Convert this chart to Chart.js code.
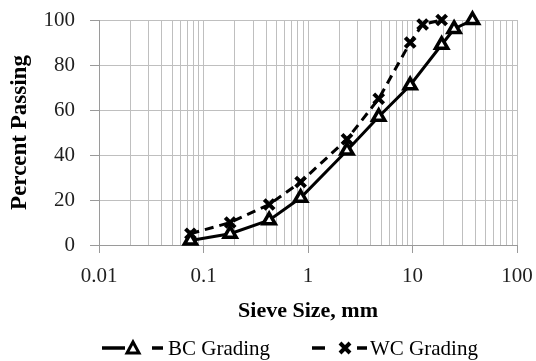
<!DOCTYPE html>
<html>
<head>
<meta charset="utf-8">
<script src="https://cdn.jsdelivr.net/npm/chart.js@4"></script>
<style>
  body { margin: 0; background: #fff; }
  #wrap { position: relative; width: 536px; height: 361px; }
  #legend { position: absolute; left: 0; top: 336px; width: 536px; height: 24px;
            font-family: "Liberation Serif", "Times New Roman", serif; font-size: 21px; color: #000; }
  #legend span, #legend svg { position: absolute; top: 0; }
</style>
</head>
<body>
<div id="wrap">
  <canvas id="grading-canvas" width="536" height="361"></canvas>
  <div id="legend">
    <svg style="left:102px" width="62" height="24">
      <line x1="0" y1="12" x2="23" y2="12" stroke="#000" stroke-width="3.5"/>
      <polygon points="31,6 37,17 25,17" fill="#fff" stroke="#000" stroke-width="3"/>
      <line x1="50" y1="12" x2="61" y2="12" stroke="#000" stroke-width="3.5"/>
    </svg>
    <span style="left:168px; line-height:24px">BC Grading</span>
    <svg style="left:312px" width="56" height="24">
      <line x1="0" y1="12" x2="13" y2="12" stroke="#000" stroke-width="3.5"/>
      <path d="M28,7 L38,17 M38,7 L28,17" stroke="#000" stroke-width="4"/>
      <line x1="45" y1="12" x2="55" y2="12" stroke="#000" stroke-width="3.5"/>
    </svg>
    <span style="left:370px; line-height:24px">WC Grading</span>
  </div>
</div>
<script>
// sieve sizes (mm) and percent passing
const bc_sizes = [0.075, 0.18, 0.425, 0.85, 2.36, 4.75, 9.5, 19, 25, 37.5];
const bc_passing = [2, 5, 11, 21, 42, 57, 71, 89, 96, 100];
const wc_sizes = [0.075, 0.18, 0.425, 0.85, 2.36, 4.75, 9.5, 12.5, 19];
const wc_passing = [5, 10, 18, 28, 47, 65, 90, 98, 100];
const x_decades = [0.01, 0.1, 1, 10];
const x_max = 100;
const y_ticks = [0, 20, 40, 60, 80, 100];

const serif = "'Liberation Serif', 'Times New Roman', serif";
const grid_color = '#bfbfbf';

function to_points(xs, ys){
  return xs.map((x, i) => ({x: x, y: ys[i]}));
}

function is_major(v){
  return Number.isInteger(Math.log10(v));
}

function log_ticks(){
  var out = [];
  x_decades.forEach(function(d){
    for(var k = 1; k < 10; k++){
      out.push(+(d * k).toPrecision(6));
    }
  });
  out.push(x_max);
  return out;
}

const ctx = document.getElementById('grading-canvas');
const myChart = new Chart(ctx, {
  type: 'scatter',
  data: {
    datasets: [{
      label: 'BC Grading',
      data: to_points(bc_sizes, bc_passing),
      showLine: true,
      clip: false,
      borderColor: '#000',
      borderWidth: 3,
      pointStyle: 'triangle',
      pointRadius: 7,
      pointBorderWidth: 3.5,
      pointBackgroundColor: '#fff',
      pointBorderColor: '#000'
    }, {
      label: 'WC Grading',
      data: to_points(wc_sizes, wc_passing),
      showLine: true,
      clip: false,
      borderColor: '#000',
      borderWidth: 3,
      borderDash: [9, 6],
      pointStyle: 'crossRot',
      pointRadius: 7,
      pointBorderWidth: 4,
      pointBorderColor: '#000'
    }]
  },
  options: {
    animation: false,
    responsive: false,
    layout: {
      padding: {left: 0, right: 19, top: 20, bottom: 36}
    },
    plugins: {
      legend: false,
      tooltip: false
    },
    scales: {
      x: {
        type: 'logarithmic',
        min: 0.01,
        max: x_max,
        afterBuildTicks: function(scale){
          scale.ticks = log_ticks().map(v => ({value: v, major: is_major(v)}));
        },
        afterFit: function(scale){
          scale.height = 80;
          // labels overhang into the padding, like in the original
          scale.paddingLeft = 0;
          scale.paddingRight = 0;
        },
        grid: {
          color: grid_color,
          lineWidth: 1,
          tickLength: 8,
          tickColor: (c) => (c.tick && is_major(c.tick.value)) ? '#9a9a9a' : 'rgba(0,0,0,0)'
        },
        border: { color: '#9a9a9a' },
        ticks: {
          autoSkip: false,
          maxRotation: 0,
          padding: 11,
          color: '#1f1f1f',
          font: { family: serif, size: 21 },
          callback: (v) => is_major(v) ? String(v) : ''
        },
        title: {
          display: true,
          text: 'Sieve Size, mm',
          color: '#000',
          padding: 0,
          font: { family: serif, size: 22, weight: 'bold' }
        }
      },
      y: {
        min: 0,
        max: 100,
        afterBuildTicks: function(scale){
          scale.ticks = y_ticks.map(v => ({value: v}));
        },
        afterFit: function(scale){
          scale.width = 99;
          scale.paddingTop = 0;
          scale.paddingBottom = 0;
        },
        grid: {
          color: grid_color,
          lineWidth: 1,
          tickLength: 9,
          tickColor: '#9a9a9a'
        },
        border: { color: '#9a9a9a' },
        ticks: {
          padding: 15,
          color: '#1f1f1f',
          font: { family: serif, size: 21 }
        },
        title: {
          display: true,
          text: 'Percent Passing',
          color: '#000',
          padding: {top: 6, bottom: 0},
          font: { family: serif, size: 23, weight: 'bold' }
        }
      }
    }
  }
});
</script>
</body>
</html>
